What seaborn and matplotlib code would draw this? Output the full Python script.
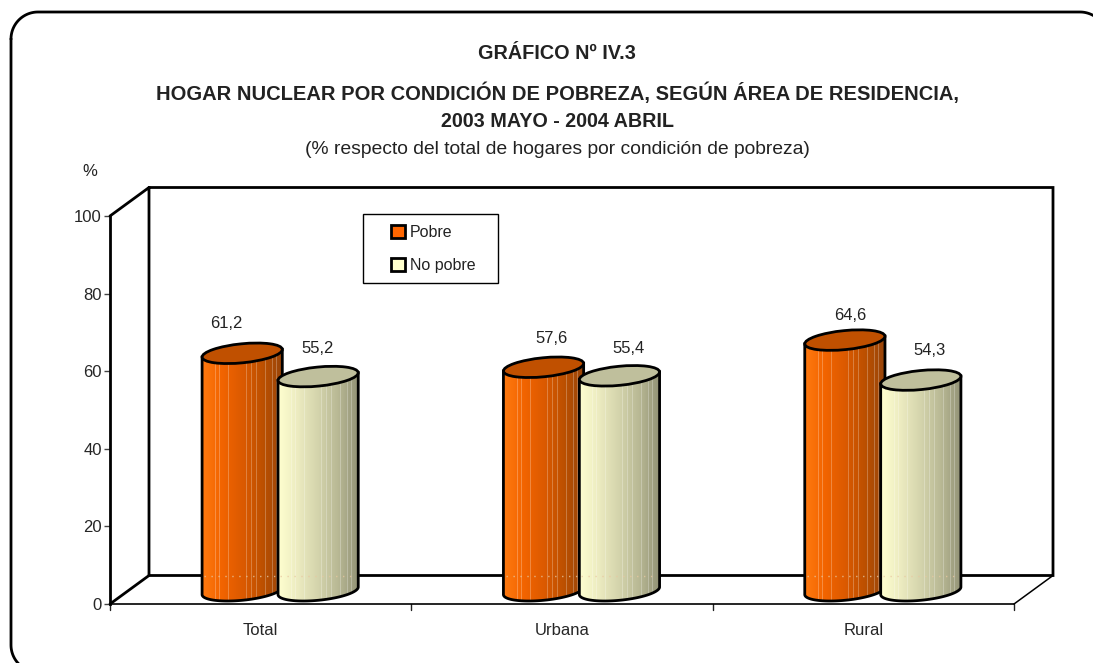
#!/usr/bin/env python

import numpy
import pandas as pd
import seaborn as sns
import matplotlib
matplotlib.use("Agg")
import matplotlib.pyplot as plt
from matplotlib.lines import Line2D
from matplotlib.patches import Ellipse, Patch, PathPatch, Rectangle
from matplotlib.path import Path
from matplotlib.transforms import IdentityTransform

areas = ["Total", "Urbana", "Rural"]
conditions = ["Pobre", "No pobre"]
pobre = [61.2, 57.6, 64.6]
no_pobre = [55.2, 55.4, 54.3]
y_ticks = [0, 20, 40, 60, 80, 100]

W, H = 1093, 663
DEPTH = (39, 28.5)  # 3d offset of the back wall, pixels
TILT = numpy.radians(5.7)
RX, RY = 40.3, 9.5

side_colors = {"Pobre": ["#ff7a10", "#f26400", "#dc5a00", "#bc5000", "#96440a"],
               "No pobre": ["#ffffd0", "#ecebc0", "#d4d4ac", "#b8b894", "#929276"]}
top_colors = {"Pobre": "#c05000", "No pobre": "#bfbf9c"}
legend_colors = {"Pobre": "#ff6600", "No pobre": "#ffffcc"}
stripes = [0.18, 0.23, 0.34, 0.55, 0.61, 0.67, 0.79, 0.87, 0.92]


def ellipse_pts(cx, cy):
    t = numpy.linspace(0, 2 * numpy.pi, 361)
    x = cx + RX * numpy.cos(t) * numpy.cos(TILT) - RY * numpy.sin(t) * numpy.sin(TILT)
    y = cy + RX * numpy.cos(t) * numpy.sin(TILT) + RY * numpy.sin(t) * numpy.cos(TILT)
    return x, y


def cylinder_path(cx, y0, y1):
    # body outline: lower half of the base ellipse, then up to the top ellipse
    x, y = ellipse_pts(cx, y0)
    il, ir = numpy.argmin(x), numpy.argmax(x)
    order = numpy.arange(il, ir + 361) % 361 if ir < il else numpy.arange(il, ir + 1)
    xb, yb = x[order], y[order]
    pts = list(zip(xb, yb))
    pts.append((xb[-1], yb[-1] + y1 - y0))
    pts.append((xb[0], yb[0] + y1 - y0))
    pts.append(pts[0])
    return Path(pts, closed=True)


def side_image(cond):
    cols = numpy.array([matplotlib.colors.to_rgb(c) for c in side_colors[cond]])
    pos = numpy.linspace(0, 1, len(cols))
    u = numpy.linspace(0, 1, 82)
    img = numpy.stack([numpy.interp(u, pos, cols[:, i]) for i in range(3)], axis=1)
    for s in stripes:
        j = int(s * 81)
        img[j] = img[j] * 0.75 + 0.25
    return img[numpy.newaxis, :, :]


def draw_cylinder(ax, bar, cond):
    x0, y0 = ax.transData.transform((bar.get_x() + bar.get_width() / 2, 0))
    _, y1 = ax.transData.transform((0, bar.get_height()))
    cx = x0 + DEPTH[0] / 2
    yb = y0 + DEPTH[1] / 2 - 1
    yt = y1 + DEPTH[1] / 2 - 1
    im = ax.imshow(side_image(cond), aspect="auto", interpolation="nearest", zorder=3,
                   extent=(cx - 41, cx + 41, yb - 12, yt + 12))
    im.set_transform(IdentityTransform())
    path = cylinder_path(cx, yb, yt)
    im.set_clip_path(path, IdentityTransform())
    ax.add_patch(PathPatch(path, fc="none", ec="black", lw=2, zorder=3,
                           transform=IdentityTransform(), clip_on=False))
    ax.add_patch(Ellipse((cx, yt), 2 * RX, 2 * RY, angle=numpy.degrees(TILT), fc=top_colors[cond],
                         ec="black", lw=2, zorder=3, transform=IdentityTransform(), clip_on=False))
    return cx, yt


def frame_points(x0, x1, y0, y1, r):
    # rounded box as a plain polyline, y measured from the top of the image
    t = numpy.linspace(0, numpy.pi / 2, 30)
    c, s = numpy.cos(t), numpy.sin(t)
    xs = numpy.concatenate([x0 + r - r * c, x1 - r + r * s, x1 - r + r * c, x0 + r - r * s, [x0]])
    ys = numpy.concatenate([y0 + r - r * s, y0 + r - r * c, y1 - r + r * s, y1 - r + r * c, [y0 + r]])
    return xs, H - ys


def main():
    sns.set_style("white")
    plt.rcParams["font.family"] = ["Liberation Sans", "DejaVu Sans"]
    plt.rcParams["text.color"] = "#222222"

    df = pd.DataFrame({"area": areas * 2,
                       "cond": [conditions[0]] * 3 + [conditions[1]] * 3,
                       "pct": pobre + no_pobre})

    fig = plt.figure(figsize=(W / 100, H / 100), dpi=100)
    ax = fig.add_axes([110 / W, 1 - 604 / H, 904 / W, 388 / H])
    sns.barplot(data=df, x="area", y="pct", hue="cond", hue_order=conditions, width=0.504,
                palette=legend_colors, ax=ax, legend=False)
    ax.set_autoscale_on(False)
    ax.set_xlim(-0.5, 2.5)
    ax.set_ylim(0, 100)
    ax.patch.set_alpha(0)
    ax.set_xlabel("")
    ax.set_ylabel("")

    ax.set_yticks(y_ticks)
    ax.set_xticks([0.0, 1.0, 2.0], areas)
    ax.tick_params(axis="y", length=4, width=1, color="#444444", labelsize=12, pad=2, left=True)
    ax.tick_params(axis="x", length=0, labelsize=12, pad=14)
    for edge in [-0.5, 0.5, 1.5, 2.5]:
        ax.plot([edge, edge], [0, -1.5], color="#222222", lw=1, clip_on=False, zorder=2)
    sns.despine(ax=ax, top=True, right=True)
    ax.spines["left"].set_linewidth(2.0)
    ax.spines["left"].set_color("black")
    ax.spines["bottom"].set_linewidth(1.2)
    ax.spines["bottom"].set_color("black")

    # back wall and floor of the 3d box
    (xl, yb), (xr, yt) = ax.transAxes.transform([(0, 0), (1, 1)])
    dx, dy = DEPTH
    thick = [[(xl, yt), (xl + dx, yt + dy), (xr + dx, yt + dy), (xr + dx, yb + dy),
              (xl + dx, yb + dy), (xl + dx, yt + dy)],
             [(xl, yb), (xl + dx, yb + dy)]]
    for seg in thick:
        s = numpy.array(seg)
        ax.add_line(Line2D(s[:, 0], s[:, 1], color="black", lw=2.0, transform=IdentityTransform(),
                           clip_on=False, zorder=1, solid_joinstyle="miter"))
    ax.add_line(Line2D([xr, xr + dx], [yb, yb + dy], color="black", lw=1.1,
                       transform=IdentityTransform(), clip_on=False, zorder=1))

    # cylinders
    offsets = [(-16, 30), (-1, 28), (8, 29), (9, 27), (5, 25), (9, 30)]
    k = 0
    for i in range(3):
        for c, cond in enumerate(conditions):
            bar = ax.containers[c][i]
            bar.set_visible(False)
            cx, top = draw_cylinder(ax, bar, cond)
            ax.annotate(f"{bar.get_height():.1f}".replace(".", ","), (cx, top),
                        xycoords=IdentityTransform(), xytext=(offsets[k][0] * 0.72, offsets[k][1] * 0.72),
                        textcoords="offset points", ha="center", va="center", fontsize=12, zorder=5)
            # wall line showing through the cylinder
            ax.add_line(Line2D([cx - 38, cx + 38], [yb + dy, yb + dy], color="#e8c8a0", lw=1,
                               ls=(0, (1, 4)), alpha=0.8, transform=IdentityTransform(), zorder=4))
            k += 1

    # legend
    ax.add_patch(Rectangle((363, H - 283), 135, 69, fc="white", ec="black", lw=1,
                           transform=IdentityTransform(), zorder=5, clip_on=False))
    handles = [Patch(fc=legend_colors[c], ec="black", lw=2, joinstyle="round") for c in conditions]
    leg = ax.legend(handles, conditions, loc="upper left", bbox_to_anchor=(391, H - 225),
                    bbox_transform=IdentityTransform(), frameon=False, fontsize=11.5, borderpad=0,
                    borderaxespad=0, handlelength=0.88, handleheight=0.88, handletextpad=0.32,
                    labelspacing=1.12)
    leg.set_zorder(6)

    # outer frame, runs past the right and bottom edges of the image
    fx, fy = frame_points(11, 1107, 12, 672, 27)
    fig.add_artist(Line2D(fx, fy, color="black", lw=2.0, transform=IdentityTransform(), zorder=10))

    # titles
    for txt, y, size, weight in [("GRÁFICO Nº IV.3", 59, 14.3, "bold"),
                                 ("HOGAR NUCLEAR POR CONDICIÓN DE POBREZA, SEGÚN ÁREA DE RESIDENCIA,", 100, 14.5, "bold"),
                                 ("2003 MAYO - 2004 ABRIL", 127, 14.2, "bold"),
                                 ("(% respecto del total de hogares por condición de pobreza)", 154, 13.9, "normal")]:
        fig.text(557 / W, 1 - y / H, txt, ha="center", va="baseline", fontsize=size, fontweight=weight)
    fig.text(90 / W, 1 - 172 / H, "%", ha="center", va="center", fontsize=12)

    plt.savefig("out.png", dpi=100)
    plt.close()


if __name__ == "__main__":
    main()
